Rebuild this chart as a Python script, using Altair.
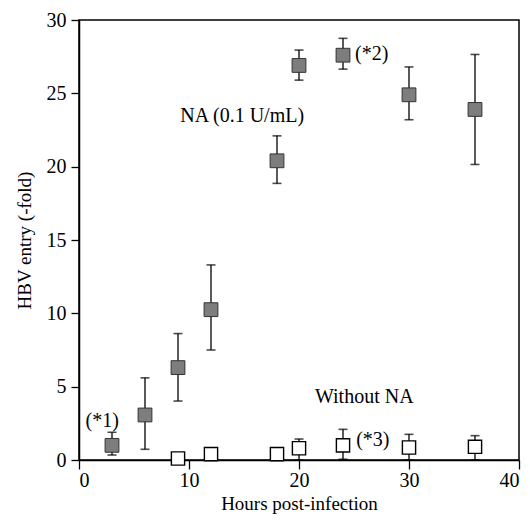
import altair as alt
import pandas as pd

hours_na = [3, 6, 9, 12, 18, 20, 24, 30, 36]
mean_na = [1.0, 3.07, 6.3, 10.25, 20.4, 26.9, 27.6, 24.9, 23.9]
low_na = [0.34, 0.73, 4.02, 7.5, 18.86, 25.9, 26.65, 23.2, 20.15]
high_na = [1.89, 5.6, 8.62, 13.3, 22.1, 27.95, 28.75, 26.8, 27.65]

hours_no = [9, 12, 18, 20, 24, 30, 36]
mean_no = [0.1, 0.4, 0.4, 0.8, 1.0, 0.85, 0.9]
low_no = [0.1, 0.4, 0.4, 0.0, 0.05, 0.0, 0.0]
high_no = [0.1, 0.4, 0.4, 1.43, 2.09, 1.75, 1.66]

note_text = ["NA (0.1 U/mL)", "(*1)", "(*2)", "(*3)", "Without NA"]
note_x = [9.2, 0.6, 25.1, 25.2, 21.45]
note_y = [23.45, 2.66, 27.7, 1.36, 4.32]

FONT = "Liberation Serif"

na = pd.DataFrame({"h": hours_na, "m": mean_na, "lo": low_na, "hi": high_na})
no = pd.DataFrame({"h": hours_no, "m": mean_no, "lo": low_no, "hi": high_no})
notes = pd.DataFrame({"t": note_text, "x": note_x, "y": note_y})

xs = alt.Scale(domain=[0, 40], nice=False)
ys = alt.Scale(domain=[0, 30], nice=False)

xax = alt.Axis(values=[0, 10, 20, 30, 40], title="Hours post-infection", grid=False,
               tickSize=9, labelPadding=1, titlePadding=4)
yax = alt.Axis(values=[0, 5, 10, 15, 20, 25, 30], title="HBV entry (-fold)", grid=False,
               tickSize=8, labelPadding=5, titlePadding=12)

X = alt.X("h:Q", scale=xs, axis=xax)
Y = alt.Y("m:Q", scale=ys, axis=yax)


def bars(df):
    base = alt.Chart(df)
    rule = base.mark_rule(color="black", strokeWidth=1.3).encode(
        x=alt.X("h:Q", scale=xs), y=alt.Y("lo:Q", scale=ys), y2="hi:Q")
    cap_hi = base.mark_tick(orient="horizontal", size=9, thickness=1.6, color="black").encode(
        x=alt.X("h:Q", scale=xs), y=alt.Y("hi:Q", scale=ys))
    cap_lo = base.mark_tick(orient="horizontal", size=9, thickness=1.6, color="black").encode(
        x=alt.X("h:Q", scale=xs), y=alt.Y("lo:Q", scale=ys))
    return rule + cap_hi + cap_lo


na_bars = bars(na[na["hi"] > na["lo"]])
no_bars = bars(no[no["hi"] > no["lo"]])

na_pts = alt.Chart(na).mark_point(shape="square", filled=True, size=190, fill="#7d7d7d",
                                  stroke="#333333", strokeWidth=1, opacity=1).encode(x=X, y=Y)
no_pts = alt.Chart(no).mark_point(shape="square", filled=True, size=175, fill="white",
                                  stroke="black", strokeWidth=1.4, opacity=1).encode(x=X, y=Y)

txt = alt.Chart(notes).mark_text(align="left", baseline="middle", font=FONT, fontSize=20,
                                 color="black").encode(
    x=alt.X("x:Q", scale=xs), y=alt.Y("y:Q", scale=ys), text="t:N")

chart = alt.layer(na_bars, no_bars, na_pts, no_pts, txt).properties(
    width=440, height=440,
    autosize=alt.AutoSizeParams(type="none"),
    padding={"left": 71, "top": 12, "right": 3, "bottom": 60},
).configure_view(stroke="black", strokeWidth=1.5).configure_axis(
    domainColor="black", domainWidth=1.5, tickColor="black", tickWidth=1.3,
    labelFont=FONT, labelFontSize=20, labelColor="black",
    titleFont=FONT, titleFontSize=19, titleFontWeight="normal", titleColor="black",
)

chart.save("out.html", embed_options={"renderer": "svg", "actions": False})
